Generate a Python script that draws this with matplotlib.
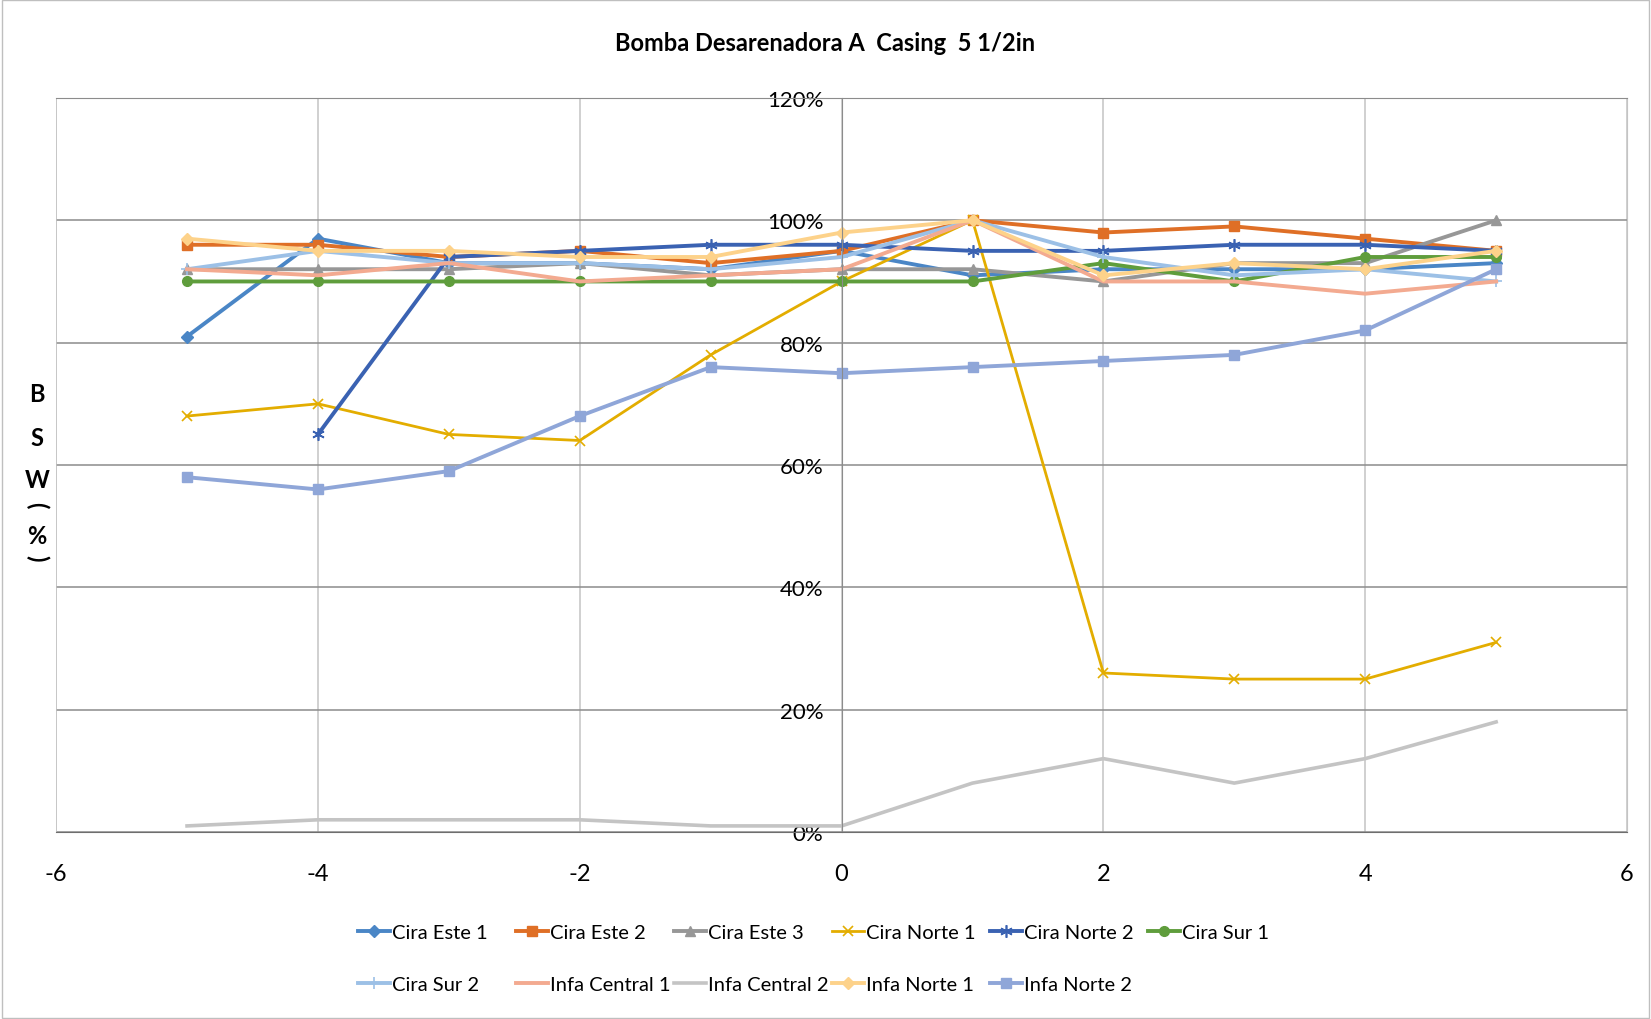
import matplotlib.pyplot as plt
import numpy as np

x = [-5, -4, -3, -2, -1, 0, 1, 2, 3, 4, 5]

cira_este_1 = [81, 97, 93, 93, 92, 95, 91, 92, 92, 92, 93]
cira_este_2 = [96, 96, 94, 95, 93, 95, 100, 98, 99, 97, 95]
cira_este_3 = [92, 92, 92, 93, 91, 92, 92, 90, 93, 93, 100]
cira_norte_1 = [68, 70, 65, 64, 78, 90, 100, 26, 25, 25, 31]
cira_norte_2 = [np.nan, 65, 94, 95, 96, 96, 95, 95, 96, 96, 95]
cira_sur_1 = [90, 90, 90, 90, 90, 90, 90, 93, 90, 94, 94]
cira_sur_2 = [92, 95, 93, 93, 92, 94, 100, 94, 91, 92, 90]
infa_central_1 = [92, 91, 93, 90, 91, 92, 100, 90, 90, 88, 90]
infa_central_2 = [1, 2, 2, 2, 1, 1, 8, 12, 8, 12, 18]
infa_norte_1 = [97, 95, 95, 94, 94, 98, 100, 91, 93, 92, 95]
infa_norte_2 = [58, 56, 59, 68, 76, 75, 76, 77, 78, 82, 92]

series = [
    ("Cira Este 1", cira_este_1, "#4a86c6", "D", 6, 2.8),
    ("Cira Este 2", cira_este_2, "#df6f26", "s", 7, 2.8),
    ("Cira Este 3", cira_este_3, "#979797", "^", 7, 2.8),
    ("Cira Norte 1", cira_norte_1, "#e3ad00", "x", 7, 2.0),
    ("Cira Norte 2", cira_norte_2, "#3a62b2", (6, 2, 0), 9, 2.8),
    ("Cira Sur 1", cira_sur_1, "#5f9d3c", "o", 7, 2.8),
    ("Cira Sur 2", cira_sur_2, "#9cc0e6", "+", 9, 2.8),
    ("Infa Central 1", infa_central_1, "#f3aa90", None, 0, 2.8),
    ("Infa Central 2", infa_central_2, "#c4c4c4", None, 0, 2.6),
    ("Infa Norte 1", infa_norte_1, "#fdd28a", "D", 6, 2.8),
    ("Infa Norte 2", infa_norte_2, "#8fa6d8", "s", 7, 2.8),
]

plt.rcParams['font.family'] = ['Lato', 'DejaVu Sans']
plt.rcParams['axes.unicode_minus'] = False

fig = plt.figure(figsize=(16.51, 10.2), dpi=100)
ax = fig.add_axes([0.034, 0.1833, 0.9515, 0.7197])

for name, vals, color, marker, ms, lw in series:
    mew = 1.2 if marker in ("x", "+", (6, 2, 0)) else 1
    ax.plot(x, vals, color=color, lw=lw, marker=marker, markersize=ms,
            markeredgewidth=mew, label=name)

ax.set_xlim(-6, 6)
ax.set_ylim(0, 120)
ax.set_xticks(range(-6, 7, 2))
ax.set_yticks(range(0, 121, 20))
ax.set_yticklabels([f"{v}%" for v in range(0, 121, 20)])

ax.grid(axis='y', color='#8c8c8c', lw=1.1)
ax.grid(axis='x', color='#c4c4c4', lw=1.1)
ax.set_axisbelow(True)

ax.spines['left'].set_position(('data', 0))
ax.spines['left'].set_color('#8c8c8c')
ax.spines['right'].set_color('#c4c4c4')
ax.spines['top'].set_color('#8c8c8c')
ax.spines['bottom'].set_color('#6e6e6e')
ax.axvline(-6, color='#c4c4c4', lw=1.1)
ax.tick_params(axis='y', length=0, labelsize=16, pad=13)
ax.tick_params(axis='x', length=0, labelsize=17, pad=22)

fig.text(0.5, 0.957, "Bomba Desarenadora A  Casing  5 1/2in",
         ha='center', va='center', fontsize=17, fontweight='bold')

# stacked y label (parentheses turned sideways like the original)
ylab = [("B", 395, 0), ("S", 438, 0), ("W", 481, 0), ("(", 505, -90),
        ("%", 536, 0), (")", 558, -90)]
for ch, ypx, rot in ylab:
    fig.text(37 / 1651, 1 - ypx / 1020, ch, ha='center', va='center',
             fontsize=17, fontweight='bold', rotation=rot)

# legend: equal-width columns, filled row by row
handles, labels = ax.get_legend_handles_labels()
ncol = 6
for j in range(ncol):
    idx = [i for i in (j, j + ncol) if i < len(handles)]
    fig.legend([handles[i] for i in idx], [labels[i] for i in idx],
               loc='upper left', bbox_to_anchor=((340 + 150 * j) / 1568, 0.0935),
               frameon=False, fontsize=14.5, handlelength=1.6,
               handletextpad=0.1, labelspacing=1.75,
               borderpad=0, borderaxespad=0)

fig.patches.append(plt.Rectangle((0.001, 0.001), 0.998, 0.998,
                                 transform=fig.transFigure, fill=False,
                                 edgecolor='#bfbfbf', lw=1))

fig.savefig("out.png", dpi=100)
